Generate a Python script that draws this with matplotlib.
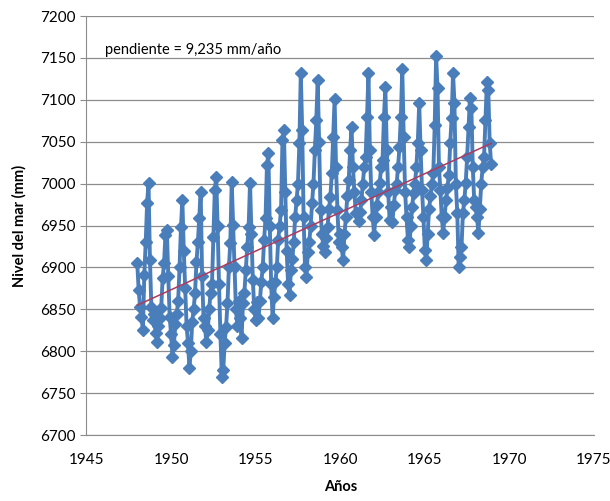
import matplotlib.pyplot as plt
import numpy as np

# Monthly mean sea level, one row per year (Jan..Dec)
years = list(range(1948, 1969))
nivel_1948 = [6905, 6873, 6853, 6841, 6825, 6891, 6930, 6977, 7001, 6909, 6853, 6837]
nivel_1949 = [6845, 6822, 6811, 6830, 6840, 6852, 6887, 6905, 6939, 6945, 6890, 6841]
nivel_1950 = [6820, 6793, 6808, 6832, 6845, 6860, 6900, 6948, 6981, 6920, 6875, 6830]
nivel_1951 = [6810, 6780, 6800, 6835, 6850, 6870, 6906, 6930, 6959, 6990, 6890, 6840]
nivel_1952 = [6830, 6811, 6825, 6850, 6870, 6880, 6936, 6992, 7008, 6950, 6880, 6820]
nivel_1953 = [6769, 6777, 6810, 6829, 6857, 6900, 6929, 7002, 6951, 6900, 6850, 6830]
nivel_1954 = [6860, 6840, 6816, 6857, 6870, 6897, 6924, 6948, 7001, 6940, 6885, 6850]
nivel_1955 = [6837, 6859, 6840, 6860, 6883, 6900, 6933, 6959, 7022, 7036, 6950, 6880]
nivel_1956 = [6840, 6865, 6883, 6900, 6933, 6950, 6968, 7052, 7064, 6990, 6920, 6880]
nivel_1957 = [6867, 6897, 6910, 6930, 6960, 6980, 7000, 7048, 7132, 7064, 6960, 6900]
nivel_1958 = [6889, 6918, 6930, 6950, 6977, 7000, 7040, 7076, 7124, 7050, 6968, 6940]
nivel_1959 = [6925, 6918, 6935, 6948, 6970, 6984, 7013, 7056, 7101, 7020, 6968, 6930]
nivel_1960 = [6940, 6924, 6909, 6940, 6960, 6985, 7004, 7040, 7068, 7020, 6990, 6965]
nivel_1961 = [6965, 6955, 6966, 6980, 7000, 7020, 7032, 7080, 7132, 7040, 6990, 6960]
nivel_1962 = [6939, 6960, 6975, 6990, 7001, 7020, 7028, 7080, 7115, 7040, 6990, 6957]
nivel_1963 = [6972, 6954, 6975, 6992, 7000, 7020, 7044, 7080, 7137, 7056, 6990, 6960]
nivel_1964 = [6933, 6924, 6950, 6972, 6989, 7000, 7020, 7049, 7096, 7040, 6992, 6960]
nivel_1965 = [6921, 6909, 6940, 6970, 6985, 7000, 7013, 7070, 7152, 7114, 7020, 6992]
nivel_1966 = [6960, 6941, 6960, 6980, 6995, 7010, 7048, 7078, 7132, 7096, 7000, 6965]
nivel_1967 = [6900, 6912, 6924, 6965, 6980, 7001, 7032, 7068, 7102, 7090, 7020, 6980]
nivel_1968 = [6972, 6960, 6941, 6970, 7000, 7020, 7032, 7076, 7121, 7112, 7048, 7024]

pendiente = 9.235  # mm/año
xticks = [1945, 1950, 1955, 1960, 1965, 1970, 1975]
yticks = [6700, 6750, 6800, 6850, 6900, 6950, 7000, 7050, 7100, 7150, 7200]

rows = [nivel_1948, nivel_1949, nivel_1950, nivel_1951, nivel_1952, nivel_1953,
        nivel_1954, nivel_1955, nivel_1956, nivel_1957, nivel_1958, nivel_1959,
        nivel_1960, nivel_1961, nivel_1962, nivel_1963, nivel_1964, nivel_1965,
        nivel_1966, nivel_1967, nivel_1968]
nivel = np.concatenate(rows).astype(float)
t = np.concatenate([yr + np.arange(12) / 12.0 for yr in years])

# trend line with the stated slope, passing through the data centroid
b = nivel.mean() - pendiente * t.mean()
t_fit = np.array([t[0], t[-1]])

plt.rcParams['font.family'] = ['Lato', 'DejaVu Sans']

fig = plt.figure(figsize=(6.10, 5.01), dpi=100)
ax = fig.add_axes([0.1418, 0.1317, 0.832, 0.8363])

ax.plot(t, nivel, color='#4A7EBB', lw=2.8, marker='D', markersize=6,
        markerfacecolor='#4A7EBB', markeredgecolor='#4A7EBB', zorder=3)
ax.plot(t_fit, pendiente * t_fit + b, color='#B03A5B', lw=1.1, zorder=4)

ax.set_xlim(1945, 1975)
ax.set_ylim(6700, 7200)
ax.set_xticks(xticks)
ax.set_yticks(yticks)
ax.yaxis.grid(True, color='#8C8C8C', lw=0.9)
ax.set_axisbelow(True)
for s in ['top', 'right']:
    ax.spines[s].set_visible(False)
for s in ['left', 'bottom']:
    ax.spines[s].set_color('#8C8C8C')
ax.tick_params(axis='both', colors='#8C8C8C', labelcolor='black', labelsize=11,
               length=4, direction='out')
ax.tick_params(axis='x', length=0, pad=13)

ax.set_ylabel('Nivel del mar (mm)', fontsize=10.5, fontweight='bold', labelpad=10)
ax.set_xlabel('Años', fontsize=10.5, fontweight='bold', labelpad=9)
ax.text(1946.1, 7160, 'pendiente = 9,235 mm/año', fontsize=10.5, va='center')

fig.savefig('out.png', dpi=100)
